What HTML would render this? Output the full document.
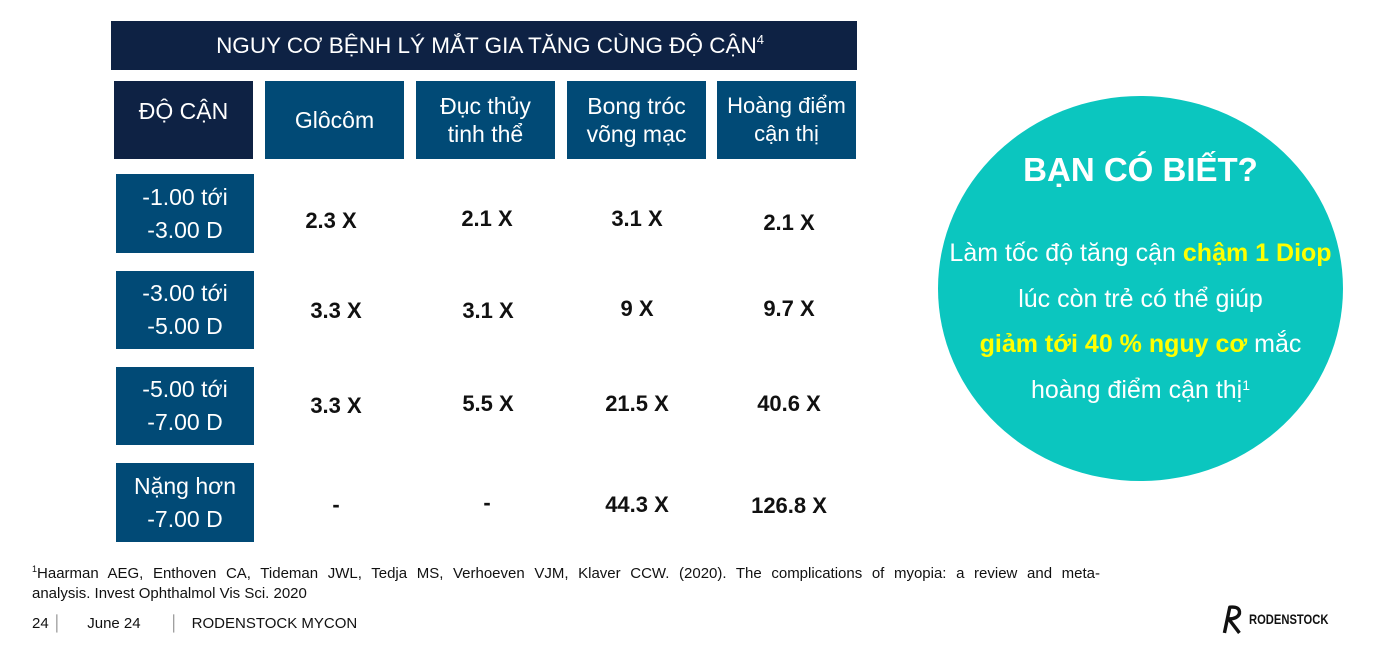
<!DOCTYPE html>
<html><head><meta charset="utf-8">
<style>
body{margin:0;width:1379px;height:652px;background:#fff;position:relative;overflow:hidden;font-family:"Liberation Sans",sans-serif}
.a{position:absolute;box-sizing:border-box;display:flex;align-items:center;justify-content:center;text-align:center;color:#fff}
.dk{background:#0e2244}.bl{background:#014a76}
.h{font-size:23px;line-height:28px}
.v{position:absolute;font-weight:bold;font-size:22px;color:#111;transform:translate(-50%,-50%);white-space:nowrap}
</style></head><body>
<div class="a dk" style="left:111px;top:21px;width:746px;height:49px;font-size:22.5px;padding-left:12px">NGUY CƠ BỆNH LÝ MẮT GIA TĂNG CÙNG ĐỘ CẬN<sup style="font-size:13px;align-self:flex-start;margin-top:11px">4</sup></div>
<div class="a dk h" style="left:114px;top:81px;width:139px;height:78px;align-items:flex-start;padding-top:16px">ĐỘ CẬN</div>
<div class="a bl h" style="left:265px;top:81px;width:139px;height:78px">Glôcôm</div>
<div class="a bl h" style="left:416px;top:81px;width:139px;height:78px">Đục thủy<br>tinh thể</div>
<div class="a bl h" style="left:567px;top:81px;width:139px;height:78px">Bong tróc<br>võng mạc</div>
<div class="a bl h" style="left:717px;top:81px;width:139px;height:78px;font-size:22px">Hoàng điểm<br>cận thị</div>

<div class="a bl h" style="left:116px;top:174px;width:138px;height:79px;line-height:33px">-1.00 tới<br>-3.00 D</div>
<div class="a bl h" style="left:116px;top:271px;width:138px;height:78px;line-height:33px">-3.00 tới<br>-5.00 D</div>
<div class="a bl h" style="left:116px;top:367px;width:138px;height:78px;line-height:33px">-5.00 tới<br>-7.00 D</div>
<div class="a bl h" style="left:116px;top:463px;width:138px;height:79px;line-height:33px">Nặng hơn<br>-7.00 D</div>

<div class="v" style="left:331px;top:221px">2.3 X</div>
<div class="v" style="left:487px;top:219px">2.1 X</div>
<div class="v" style="left:637px;top:219px">3.1 X</div>
<div class="v" style="left:789px;top:223px">2.1 X</div>
<div class="v" style="left:336px;top:311px">3.3 X</div>
<div class="v" style="left:488px;top:311px">3.1 X</div>
<div class="v" style="left:637px;top:309px">9 X</div>
<div class="v" style="left:789px;top:309px">9.7 X</div>
<div class="v" style="left:336px;top:406px">3.3 X</div>
<div class="v" style="left:488px;top:404px">5.5 X</div>
<div class="v" style="left:637px;top:404px">21.5 X</div>
<div class="v" style="left:789px;top:404px">40.6 X</div>
<div class="v" style="left:336px;top:505px">-</div>
<div class="v" style="left:487px;top:503px">-</div>
<div class="v" style="left:637px;top:505px">44.3 X</div>
<div class="v" style="left:789px;top:506px">126.8 X</div>

<div style="position:absolute;left:938px;top:96px;width:405px;height:385px;border-radius:50%;background:#0bc6bf"></div>
<div style="position:absolute;left:938px;top:151px;width:405px;text-align:center;color:#fff;font-weight:bold;font-size:33px">BẠN CÓ BIẾT?</div>
<div style="position:absolute;left:938px;top:231px;width:405px;text-align:center;color:#fff;font-size:25px;line-height:45.5px;white-space:nowrap">Làm tốc độ tăng cận <b style="color:#ffff00">chậm 1 Diop</b><br>lúc còn trẻ có thể giúp<br><b style="color:#ffff00">giảm tới 40 % nguy cơ</b> mắc<br>hoàng điểm cận thị<span style="font-size:14px;vertical-align:8px;line-height:0">1</span></div>

<div style="position:absolute;left:32px;top:564px;width:1068px;font-size:15px;line-height:20px;color:#111;text-align:justify;text-align-last:justify;white-space:nowrap"><span style="font-size:9px;vertical-align:6px;line-height:0">1</span>Haarman AEG, Enthoven CA, Tideman JWL, Tedja MS, Verhoeven VJM, Klaver CCW. (2020). The complications of myopia: a review and meta-</div>
<div style="position:absolute;left:32px;top:584px;font-size:15px;line-height:20px;color:#111">analysis. Invest Ophthalmol Vis Sci. 2020</div>
<div style="position:absolute;left:32px;top:615px;font-size:15px;color:#111;white-space:nowrap">24 <span style="color:#888">│</span>&nbsp;&nbsp;&nbsp;&nbsp;&nbsp;&nbsp;June 24&nbsp;&nbsp;&nbsp;&nbsp;&nbsp;&nbsp;&nbsp;<span style="color:#888">│</span>&nbsp;&nbsp;&nbsp;RODENSTOCK MYCON</div>
<div style="position:absolute;left:1220px;top:604px;display:flex;align-items:center">
<svg width="26" height="30" viewBox="0 0 22 28"><path d="M3 27 L8 3 Q18 2 17 9 Q15 14 7 14 L17 27" fill="none" stroke="#111" stroke-width="3.2" stroke-linejoin="round"/></svg>
<span style="font-weight:bold;font-size:14px;color:#111;margin-left:3px;transform:scaleX(0.8);transform-origin:left;display:inline-block">RODENSTOCK</span></div>
</body></html>
